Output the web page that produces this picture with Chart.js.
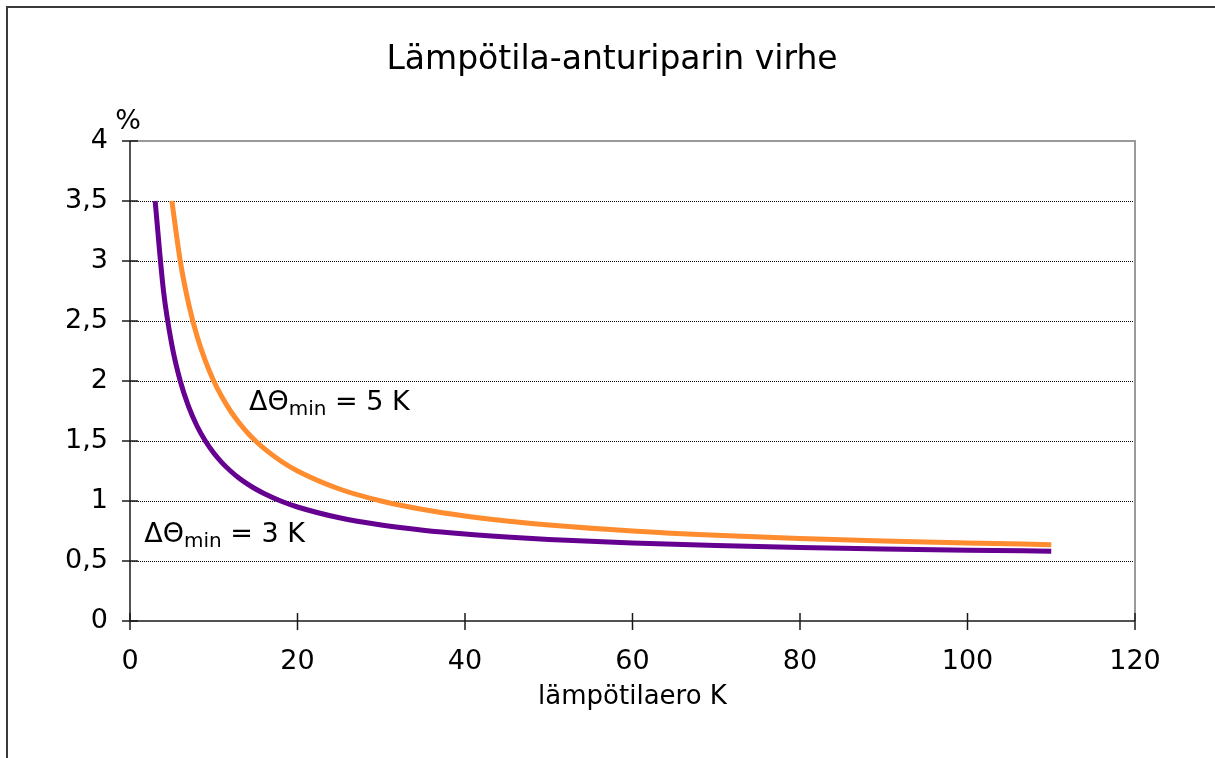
<!DOCTYPE html>
<html lang="fi">
<head>
<meta charset="utf-8">
<title>Lämpötila-anturiparin virhe</title>
<script src="https://cdn.jsdelivr.net/npm/chart.js@4/dist/chart.umd.min.js"></script>
<style>
  html, body { margin: 0; padding: 0; background: #fff; overflow: hidden; }
  #wrap { position: relative; width: 1215px; height: 758px; }
</style>
</head>
<body>
<div id="wrap"><canvas id="c"></canvas></div>
<script>
// Temperature difference (K) and error (%) for the sensor pair, ΔΘmin = 3 K
const dTheta3 = [3, 4, 5, 6, 7, 8, 9, 10, 11, 12, 13, 14, 15, 16, 18, 20, 25, 30, 35, 40, 45, 50, 60, 70, 80, 90, 100, 110];
const err3    = [3.50, 2.75, 2.30, 2.00, 1.786, 1.625, 1.50, 1.40, 1.318, 1.25, 1.192, 1.143, 1.10, 1.063, 1.00, 0.95, 0.86, 0.80, 0.757, 0.725, 0.70, 0.68, 0.65, 0.629, 0.613, 0.60, 0.59, 0.582];

// Same for ΔΘmin = 5 K
const dTheta5 = [5, 6, 7, 8, 9, 10, 11, 12, 13, 14, 15, 16, 18, 20, 25, 30, 35, 40, 45, 50, 60, 70, 80, 90, 100, 110];
const err5    = [3.50, 3.00, 2.643, 2.375, 2.167, 2.00, 1.864, 1.75, 1.654, 1.571, 1.50, 1.438, 1.333, 1.25, 1.10, 1.00, 0.929, 0.875, 0.833, 0.80, 0.75, 0.714, 0.688, 0.667, 0.65, 0.636];

// Axis tick labels
const xTickLabels = ['0', '20', '40', '60', '80', '100', '120'];
const yTickLabels = ['0', '0,5', '1', '1,5', '2', '2,5', '3', '3,5', '4'];

const titleText = 'Lämpötila-anturiparin virhe';
const xAxisText = 'lämpötilaero K';
const yUnitText = '%';

const FONT = '"DejaVu Sans", Verdana, sans-serif';

function points(xs, ys) { return xs.map((x, i) => ({ x: x, y: ys[i] })); }

// Curve labels, anchored in data units
const curveLabels = [
  { x: 14.2, y: 1.76, value: '5 K' },
  { x: 1.7,  y: 0.66, value: '3 K' }
];

const decorPlugin = {
  id: 'decor',
  beforeDraw(chart) {
    const ctx = chart.ctx;
    ctx.save();
    ctx.fillStyle = '#ffffff';
    ctx.fillRect(0, 0, chart.width, chart.height);
    // outer frame (runs past the right and bottom edges)
    ctx.strokeStyle = '#3a3a3a';
    ctx.lineWidth = 2;
    ctx.strokeRect(7, 7, chart.width + 20, chart.height + 20);
    ctx.restore();
  },
  beforeDatasetsDraw(chart) {
    const ctx = chart.ctx;
    const xs = chart.scales.x, ys = chart.scales.y;
    const L = xs.getPixelForValue(0), R = xs.getPixelForValue(120);
    const T = ys.getPixelForValue(4), B = ys.getPixelForValue(0);
    ctx.save();
    // dotted horizontal gridlines
    ctx.strokeStyle = '#000';
    ctx.lineWidth = 1;
    ctx.setLineDash([1, 1]);
    ys.ticks.forEach(t => {
      if (t.value <= 0 || t.value >= 4) return;
      const y = Math.round(ys.getPixelForValue(t.value)) + 0.5;
      ctx.beginPath(); ctx.moveTo(L, y); ctx.lineTo(R, y); ctx.stroke();
    });
    ctx.setLineDash([]);
    // plot-area border, top and right
    ctx.strokeStyle = '#9a9a9a';
    ctx.lineWidth = 2;
    ctx.beginPath(); ctx.moveTo(L, T); ctx.lineTo(R, T); ctx.lineTo(R, B); ctx.stroke();
    // axes
    ctx.strokeStyle = '#1a1a1a';
    ctx.lineWidth = 1.5;
    ctx.beginPath(); ctx.moveTo(L, T); ctx.lineTo(L, B); ctx.lineTo(R, B); ctx.stroke();
    // tick marks crossing the axes
    ys.ticks.forEach(t => {
      const y = ys.getPixelForValue(t.value);
      ctx.beginPath(); ctx.moveTo(L - 8, y); ctx.lineTo(L + 8, y); ctx.stroke();
    });
    xs.ticks.forEach(t => {
      const x = xs.getPixelForValue(t.value);
      ctx.beginPath(); ctx.moveTo(x, B - 8); ctx.lineTo(x, B + 9); ctx.stroke();
    });
    ctx.restore();
  },
  afterDraw(chart) {
    const ctx = chart.ctx;
    const xs = chart.scales.x, ys = chart.scales.y;
    const a = chart.chartArea;
    ctx.save();
    ctx.fillStyle = '#000';
    ctx.textBaseline = 'alphabetic';
    // title
    ctx.font = '33px ' + FONT;
    ctx.textAlign = 'center';
    ctx.fillText(titleText, 612, 69);
    // x-axis title
    ctx.font = '26px ' + FONT;
    ctx.fillText(xAxisText, (a.left + a.right) / 2, 704);
    // unit above the value axis
    ctx.font = '27px ' + FONT;
    ctx.fillText(yUnitText, a.left - 2, 129);
    // curve labels ΔΘmin = n K
    ctx.textAlign = 'left';
    curveLabels.forEach(lb => {
      let x = xs.getPixelForValue(lb.x);
      const y = ys.getPixelForValue(lb.y);
      ctx.font = '27px ' + FONT;
      ctx.fillText('ΔΘ', x, y);
      x += ctx.measureText('ΔΘ').width;
      ctx.font = '20px ' + FONT;
      ctx.fillText('min', x, y + 5);
      x += ctx.measureText('min').width;
      ctx.font = '27px ' + FONT;
      ctx.fillText(' = ' + lb.value, x, y);
    });
    ctx.restore();
  }
};

new Chart(document.getElementById('c'), {
  type: 'line',
  data: {
    datasets: [
      {
        label: 'ΔΘmin = 5 K',
        data: points(dTheta5, err5),
        borderColor: '#ff8c2e',
        borderWidth: 5,
        pointRadius: 0,
        fill: false,
        cubicInterpolationMode: 'monotone',
        borderCapStyle: 'butt'
      },
      {
        label: 'ΔΘmin = 3 K',
        data: points(dTheta3, err3),
        borderColor: '#660090',
        borderWidth: 5,
        pointRadius: 0,
        fill: false,
        cubicInterpolationMode: 'monotone',
        borderCapStyle: 'butt'
      }
    ]
  },
  options: {
    responsive: true,
    maintainAspectRatio: false,
    animation: false,
    devicePixelRatio: 1,
    layout: { padding: { top: 141, right: 80, bottom: 0, left: 0 } },
    plugins: {
      legend: { display: false },
      title: { display: false },
      tooltip: { enabled: false }
    },
    scales: {
      x: {
        type: 'linear',
        min: 0, max: 120,
        grid: { display: false, drawTicks: false },
        border: { display: false },
        ticks: {
          stepSize: 20,
          padding: 25,
          color: '#000',
          font: { family: FONT, size: 27 },
          maxRotation: 0,
          callback: (v) => xTickLabels[Math.round(v / 20)]
        },
        afterFit(scale) { scale.height = 137; }
      },
      y: {
        type: 'linear',
        min: 0, max: 4,
        grid: { display: false, drawTicks: false },
        border: { display: false },
        ticks: {
          stepSize: 0.5,
          padding: 22,
          color: '#000',
          font: { family: FONT, size: 27 },
          callback: (v) => yTickLabels[Math.round(v / 0.5)]
        },
        afterFit(scale) { scale.width = 130; }
      }
    }
  },
  plugins: [decorPlugin]
});
</script>
</body>
</html>
